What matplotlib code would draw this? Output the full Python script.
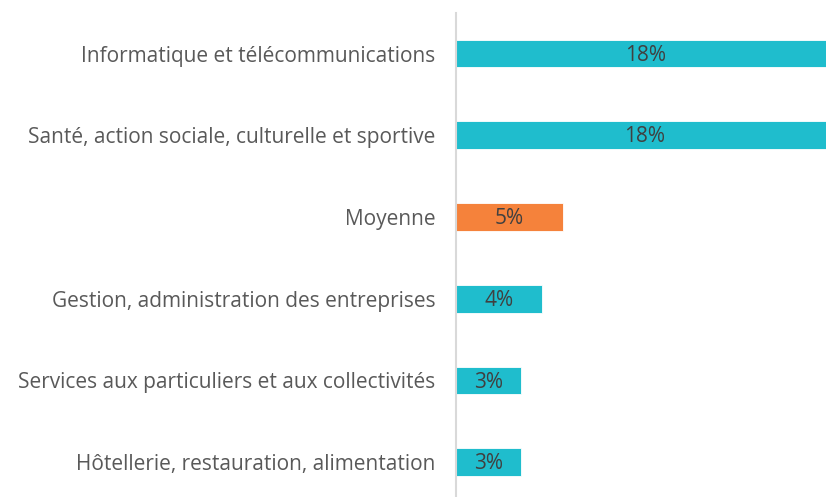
import matplotlib.pyplot as plt

categories = [
    "Informatique et télécommunications",
    "Santé, action sociale, culturelle et sportive",
    "Moyenne",
    "Gestion, administration des entreprises",
    "Services aux particuliers et aux collectivités",
    "Hôtellerie, restauration, alimentation",
]
values = [18.0, 17.9, 5.1, 4.1, 3.1, 3.1]
labels = ["18%", "18%", "5%", "4%", "3%", "3%"]
colors = ["#1fbdcd", "#1fbdcd", "#f5823b", "#1fbdcd", "#1fbdcd", "#1fbdcd"]

plt.rcParams["font.family"] = ["Open Sans", "DejaVu Sans"]

fig = plt.figure(figsize=(8.26, 4.97), dpi=100)
ax = fig.add_axes([456 / 826, -6 / 497, 1 - 456 / 826, 1 - 12.7 / 497 + 6 / 497])

y = list(range(len(categories)))
ax.barh(y, values, height=0.34, color=colors, edgecolor="white", linewidth=0.6)
for yi, v, lab in zip(y, values, labels):
    ax.text(v / 2, yi + 0.02, lab, ha="center", va="center", fontsize=15, color="#404040")

ax.set_xlim(0, 17.6)
ax.set_ylim(len(categories) - 0.5, -0.5)
ax.set_yticks(y)
ax.set_yticklabels(categories, fontsize=15, color="#595959")
ax.tick_params(axis="y", length=0, pad=15)
ax.set_xticks([])
for side in ["top", "right", "bottom"]:
    ax.spines[side].set_visible(False)
ax.spines["left"].set_color("#d9d9d9")
ax.spines["left"].set_linewidth(1.5)

fig.savefig("out.png", dpi=100)
